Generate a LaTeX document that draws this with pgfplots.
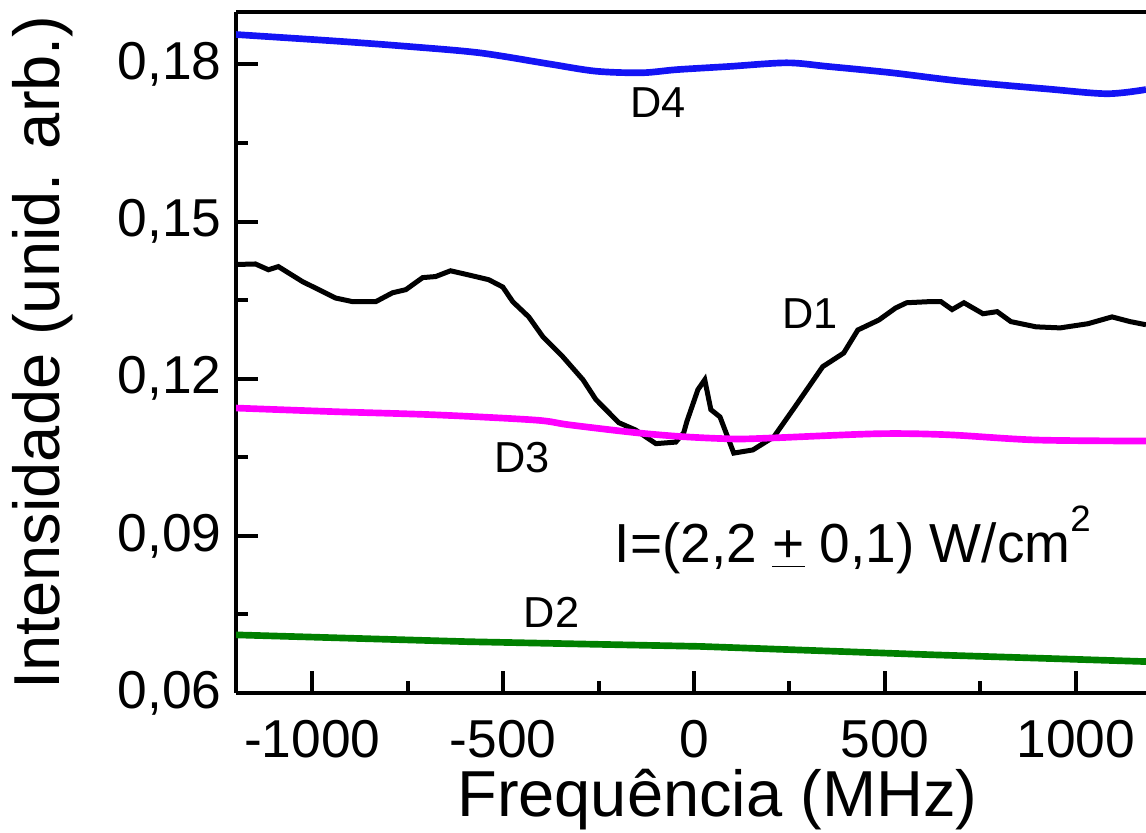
\documentclass[border=0pt]{standalone}
\usepackage{fontspec}
\setmainfont{Liberation Sans}
\usepackage{pgfplots}
\pgfplotsset{compat=1.18}
\definecolor{dblue}{RGB}{20,20,245}
\definecolor{dmag}{RGB}{255,0,255}
\definecolor{dgreen}{RGB}{0,128,0}
\begin{document}
\begin{tikzpicture}
\begin{axis}[
  scale only axis, width=273pt, height=204.3pt,
  xmin=-1200, xmax=1184, ymin=0.06, ymax=0.19,
  axis x line=box, axis y line=left,
  axis line style={-, line width=1.3pt, black},
  x axis line style={-}, y axis line style={-},
  xtick={-1000,-500,0,500,1000},
  ytick={0.06,0.09,0.12,0.15,0.18},
  minor x tick num=1, minor y tick num=1,
  xtick pos=bottom, ytick pos=left,
  tick align=inside,
  major tick length=6.6pt, minor tick length=3.6pt,
  tick style={black, line width=1.2pt},
  /pgf/number format/assume math mode=true,
  ticklabel style={font=\fontsize{16}{19}\selectfont},
  yticklabel style={inner sep=0pt, xshift=-4.2pt, /pgf/number format/.cd, fixed, fixed zerofill, precision=2, use comma},
  xticklabel style={inner sep=0pt, yshift=-8pt, /pgf/number format/1000 sep={}},
  xlabel={Frequência (MHz)},
  ylabel={Intensidade (unid. arb.)},
  label style={font=\fontsize{19.5}{23}\selectfont, inner sep=0pt},
  xlabel style={at={(axis description cs:0.529,-0.157)}, anchor=center},
  ylabel style={at={(axis description cs:-0.2125,0.5)}, anchor=center},
]
% D4 (blue)
\addplot[dblue, line width=2pt, smooth, tension=0.5] coordinates {
(-1200,0.1857) (-928,0.1844) (-745,0.1834) (-561,0.1822) (-381,0.1801)
(-257,0.1787) (-137,0.1784) (-45,0.1790) (91,0.1796) (243,0.1803)
(351,0.1796) (518,0.1784) (699,0.1768) (927,0.1753) (1082,0.1744) (1184,0.1752)
};
% D1 (black)
\addplot[black, line width=1.5pt] coordinates {
(-1200,0.1418) (-1149,0.1419) (-1115,0.1408) (-1089,0.1414) (-1025,0.1385)
(-983,0.1370) (-939,0.1354) (-894,0.1347) (-834,0.1347) (-790,0.1364)
(-755,0.1370) (-711,0.1393) (-677,0.1395) (-638,0.1406) (-590,0.1398)
(-538,0.1389) (-501,0.1375) (-475,0.1347) (-433,0.1318) (-396,0.1280)
(-344,0.1242) (-291,0.1198) (-257,0.1160) (-197,0.1116) (-153,0.1102)
(-100,0.1076) (-48,0.1079) (-27,0.1097) (-19,0.1118) (10,0.1179)
(28,0.1198) (44,0.1141) (68,0.1127) (104,0.1058) (154,0.1064)
(209,0.1089) (264,0.1146) (337,0.1223) (392,0.1249) (429,0.1293)
(484,0.1312) (528,0.1335) (557,0.1345) (613,0.1347) (647,0.1347)
(676,0.1332) (707,0.1345) (757,0.1324) (794,0.1328) (830,0.1309)
(896,0.1299) (959,0.1297) (1032,0.1305) (1095,0.1318) (1142,0.1309) (1184,0.1303)
};
% D3 (magenta)
\addplot[dmag, line width=2pt, smooth, tension=0.5] coordinates {
(-1200,0.1144) (-939,0.1137) (-677,0.1131) (-415,0.1121) (-328,0.1112)
(-153,0.1097) (-22,0.1089) (109,0.1085) (209,0.1087) (484,0.1095)
(665,0.1093) (896,0.1083) (1184,0.1081)
};
% D2 (green)
\addplot[dgreen, line width=2pt] coordinates {
(-1200,0.0711) (-593,0.0698) (15,0.0689) (623,0.0673) (1184,0.0660)
};
\node[anchor=base, font=\fontsize{13}{15}\selectfont] at (axis cs:-95,0.1698) {D4};
\node[anchor=base, font=\fontsize{13}{15}\selectfont] at (axis cs:303,0.1295) {D1};
\node[anchor=base, font=\fontsize{13}{15}\selectfont] at (axis cs:-451,0.1020) {D3};
\node[anchor=base, font=\fontsize{13}{15}\selectfont] at (axis cs:-373,0.0726) {D2};
\node[anchor=base, font=\fontsize{16.5}{19}\selectfont] at (axis cs:416,0.0850) {I=(2,2 \underline{+} 0,1) W/cm\raisebox{0.55em}{\fontsize{11}{13}\selectfont 2}};
\coordinate (SW) at (rel axis cs:0,0);
\coordinate (NE) at (rel axis cs:1,1);
\end{axis}
\pgfresetboundingbox
\useasboundingbox ([shift={(-70.8pt,-41.7pt)}]SW) rectangle ([shift={(0pt,3.6pt)}]NE);
\end{tikzpicture}
\end{document}
